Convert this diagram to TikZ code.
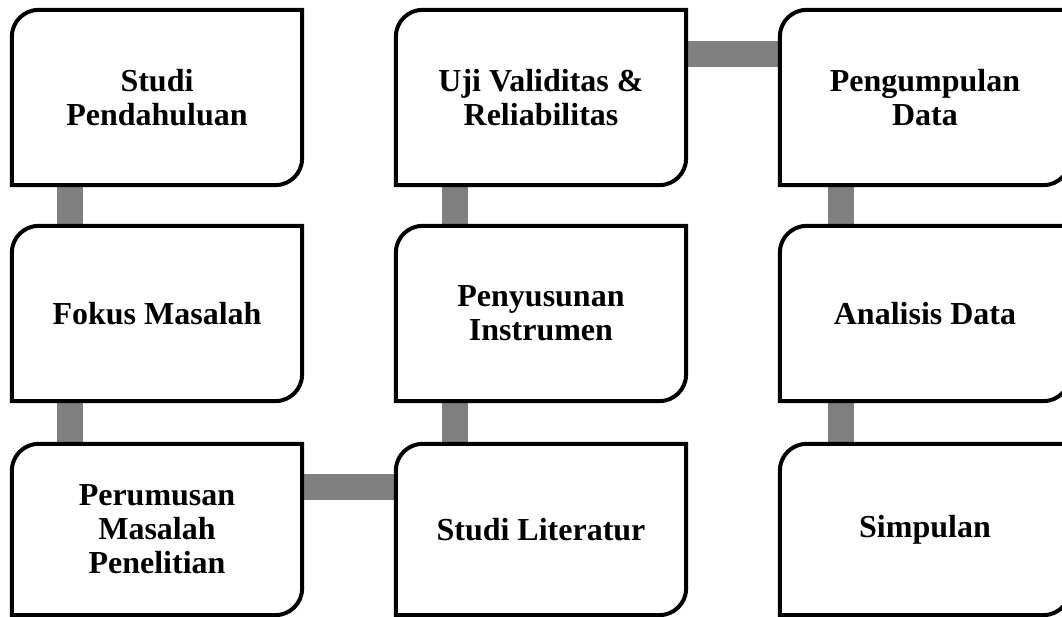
\documentclass[tikz,border=0pt]{standalone}
\usepackage{fontspec}
\setmainfont{Liberation Serif}
\begin{document}
\begin{tikzpicture}[x=1pt,y=-1pt,
  stepbox/.style={rectangle, draw=none, minimum width=290pt, minimum height=175pt,
    align=center, inner sep=0pt, font=\fontsize{32}{34}\selectfont\bfseries},
  outline/.style={draw=black, line width=4pt, fill=white},
  conn/.style={draw=black!50, line width=26pt, line cap=butt}]
\useasboundingbox (0,0) rectangle (1062,617);
\newcommand{\roundbox}[1]{%
  \draw[outline] (#1.south west) -- ([yshift=-27pt]#1.north west)
    arc[start angle=180, end angle=90, radius=27pt] -- (#1.north east)
    -- ([yshift=27pt]#1.south east)
    arc[start angle=0, end angle=-90, radius=27pt] -- cycle;}
% nodes (text drawn later on top)
\node[stepbox] (a1) at (157,97.5) {};
\node[stepbox] (a2) at (157,313.5) {};
\node[stepbox, minimum height=171pt] (a3) at (157,529.5) {};
\node[stepbox] (b1) at (541,97.5) {};
\node[stepbox] (b2) at (541,313.5) {};
\node[stepbox, minimum height=171pt] (b3) at (541,529.5) {};
\node[stepbox] (c1) at (925,97.5) {};
\node[stepbox] (c2) at (925,313.5) {};
\node[stepbox, minimum height=171pt] (c3) at (925,529.5) {};
% connectors
\draw[conn] ([xshift=58pt]a1.south west) -- ([xshift=58pt]a2.north west);
\draw[conn] ([xshift=58pt]a2.south west) -- ([xshift=58pt]a3.north west);
\draw[conn] ([yshift=-43pt]a3.north east) -- ([yshift=-43pt]b3.north west);
\draw[conn] ([xshift=59pt]b3.north west) -- ([xshift=59pt]b2.south west);
\draw[conn] ([xshift=59pt]b2.north west) -- ([xshift=59pt]b1.south west);
\draw[conn] ([yshift=-44pt]b1.north east) -- ([yshift=-44pt]c1.north west);
\draw[conn] ([xshift=61pt]c1.south west) -- ([xshift=61pt]c2.north west);
\draw[conn] ([xshift=61pt]c2.south west) -- ([xshift=61pt]c3.north west);
% outlines
\roundbox{a1}\roundbox{a2}\roundbox{a3}
\roundbox{b1}\roundbox{b2}\roundbox{b3}
\roundbox{c1}\roundbox{c2}\roundbox{c3}
% texts
\node[stepbox] at (a1) {Studi\\Pendahuluan};
\node[stepbox] at (a2) {Fokus Masalah};
\node[stepbox] at (a3) {Perumusan\\Masalah\\Penelitian};
\node[stepbox] at (b1) {Uji Validitas \&\\Reliabilitas};
\node[stepbox] at (b2) {Penyusunan\\Instrumen};
\node[stepbox] at (b3) {Studi Literatur};
\node[stepbox] at (c1) {Pengumpulan\\Data};
\node[stepbox] at (c2) {Analisis Data};
\node[stepbox] at (c3) {Simpulan};
\end{tikzpicture}
\end{document}
